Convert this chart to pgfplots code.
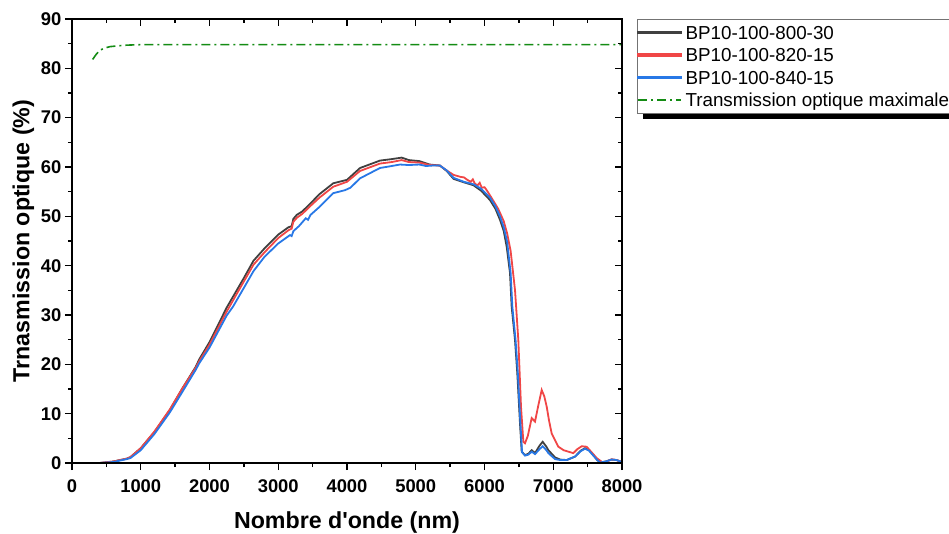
\documentclass[border=0pt]{standalone}
\usepackage{pgfplots}
\pgfplotsset{compat=1.18}
\usepackage{fontspec}
\setmainfont{Liberation Sans}
\definecolor{cBlack}{RGB}{64,64,64}
\definecolor{cRed}{RGB}{240,70,70}
\definecolor{cBlue}{RGB}{40,120,230}
\definecolor{cGreen}{RGB}{20,140,20}
\begin{document}
\begin{tikzpicture}
\pgfplotsset{
  common/.style={
    at={(0pt,0pt)}, anchor=south west,
    scale only axis, width=550pt, height=444pt,
    xmin=0, xmax=8000, ymin=0, ymax=90,
    xtick={0,1000,...,8000}, ytick={0,10,...,90},
    minor x tick num=1, minor y tick num=1,
    axis line style={line width=1.6pt},
    major tick length=7pt, minor tick length=4pt,
    every tick/.style={line width=1.4pt, black},
    scaled x ticks=false,
    /pgf/number format/assume math mode=true,
    /pgf/number format/1000 sep={},
  }
}
% legend shadow
\fill[black] (571pt,344pt) rectangle (895pt,438pt);
\begin{axis}[common,
  tick align=outside, xtick pos=left, ytick pos=left,
  ticklabel style={font=\fontsize{18.4}{20}\selectfont\bfseries},
  xticklabel style={yshift=-6pt},
  xlabel={Nombre d\textquotesingle onde (nm)}, ylabel={Trnasmission optique (\%)},
  label style={font=\fontsize{23.2}{26}\selectfont\bfseries},
  xlabel style={at={(axis description cs:0.5,0)}, anchor=base, yshift=-65pt},
  ylabel style={at={(axis description cs:-0.0773,0.5)}, anchor=base, rotate=0},
  legend style={at={(axis description cs:1.0273,1)}, anchor=north west,
    draw=black!55, fill=white,
    font=\fontsize{18.8}{20}\selectfont,
    inner xsep=0pt, inner ysep=2pt, row sep=0pt, column sep=2pt,
    nodes={inner xsep=1.5pt, inner ysep=3pt, text height=15pt, text depth=1.5pt}},
  legend cell align=left,
]
\addplot[cBlack, line width=1.8pt,
  legend image code/.code={\fill[cBlack] (1pt,-0.9pt) rectangle (44pt,0.9pt);}] coordinates {
(400,0) (600,0.3) (800,0.9) (850,1.2) (1000,3.0) (1200,6.3) (1425,10.8) (1600,15.0) (1800,19.5) (1850,21.0) (2000,24.5) (2250,31.5) (2500,37.5) (2640,41.0) (2800,43.5) (3000,46.3) (3150,47.8) (3195,48.0) (3220,49.5) (3270,50.3) (3350,51.0) (3460,52.5) (3600,54.5) (3800,56.7) (4000,57.4) (4190,59.8) (4480,61.3) (4650,61.6) (4795,61.9) (4900,61.4) (5050,61.2) (5200,60.5) (5350,60.3) (5450,59.2) (5550,57.6) (5700,56.9) (5840,56.3) (5950,55.2) (6080,53.3) (6160,51.5) (6225,49.3) (6280,47.0) (6323,43.8) (6371,38.5) (6395,31.7) (6444,24.9) (6477,18.2) (6516,8.1) (6541,2.3) (6589,1.6) (6640,1.9) (6686,2.6) (6735,2.0) (6800,3.5) (6846,4.3) (6900,3.3) (6929,2.6) (7025,1.15) (7100,0.7) (7195,0.6) (7316,1.3) (7400,2.5) (7462,3.0) (7520,2.6) (7583,1.6) (7640,0.6) (7680,0.1) (7760,0.3) (7850,0.7) (7920,0.6) (8000,0.2)
};
\addlegendentry{BP10-100-800-30}
\addplot[cRed, line width=1.8pt,
  legend image code/.code={\fill[cRed] (1pt,-0.9pt) rectangle (44pt,0.9pt);}] coordinates {
(400,0) (600,0.3) (800,0.9) (850,1.2) (1000,3.0) (1200,6.4) (1425,10.9) (1600,15.0) (1800,19.3) (1850,20.6) (2000,24.0) (2250,30.7) (2500,36.8) (2640,40.2) (2800,42.7) (3000,45.6) (3150,47.2) (3195,47.5) (3220,48.9) (3270,49.7) (3350,50.5) (3460,52.0) (3600,53.8) (3800,56.0) (4000,57.0) (4190,59.2) (4480,60.7) (4650,61.0) (4795,61.4) (4900,61.0) (5050,60.9) (5200,60.4) (5350,60.3) (5450,59.3) (5550,58.4) (5600,58.2) (5650,58.0) (5700,57.9) (5750,57.4) (5800,57.0) (5830,57.5) (5860,56.6) (5900,56.3) (5930,56.8) (5960,55.8) (6000,55.9) (6032,55.3) (6100,53.8) (6200,51.5) (6280,49.0) (6330,46.5) (6380,43.0) (6444,35) (6492,24.9) (6531,11.4) (6565,4.3) (6589,4.0) (6630,5.5) (6686,9.1) (6735,8.4) (6780,11.5) (6832,14.8) (6870,13.5) (6905,11.4) (6940,8.5) (6977,6.0) (7074,3.3) (7150,2.6) (7220,2.3) (7292,2.0) (7350,2.8) (7414,3.4) (7486,3.3) (7550,2.3) (7632,1.0) (7729,0.0) (7790,0.4) (7850,0.75) (7920,0.6) (7995,0.2)
};
\addlegendentry{BP10-100-820-15}
\addplot[cBlue, line width=1.8pt,
  legend image code/.code={\fill[cBlue] (1pt,-0.9pt) rectangle (44pt,0.9pt);}] coordinates {
(400,0) (600,0.2) (800,0.8) (850,1.0) (1000,2.6) (1200,5.9) (1425,10.3) (1600,14.3) (1800,18.9) (1850,20.2) (2000,23.4) (2250,29.9) (2342,31.7) (2500,35.5) (2640,38.9) (2800,41.8) (3000,44.5) (3171,46.2) (3195,46.0) (3220,47.0) (3300,48.0) (3400,49.6) (3433,49.3) (3470,50.3) (3607,52.0) (3800,54.7) (3971,55.3) (4050,55.8) (4189,57.7) (4480,59.8) (4650,60.2) (4771,60.5) (4900,60.4) (5050,60.5) (5150,60.2) (5250,60.3) (5350,60.3) (5450,59.3) (5550,57.8) (5700,57.0) (5840,56.5) (5950,55.6) (6080,53.8) (6160,52.0) (6225,50.0) (6280,47.8) (6330,44.8) (6380,38.5) (6405,31.7) (6452,24.9) (6485,18.2) (6522,8.1) (6546,2.2) (6589,1.5) (6640,1.7) (6686,2.3) (6735,1.8) (6800,2.8) (6846,3.4) (6900,2.6) (6929,2.0) (7025,0.8) (7100,0.6) (7195,0.6) (7316,1.3) (7400,2.4) (7462,2.9) (7520,2.5) (7583,1.5) (7640,0.6) (7680,0.1) (7760,0.3) (7850,0.7) (7920,0.6) (8000,0.2)
};
\addlegendentry{BP10-100-840-15}
\addplot[cGreen, line width=1.6pt, dash pattern=on 9pt off 4pt on 2pt off 4pt,
  legend image code/.code={\draw[cGreen, line width=1.6pt, dash pattern=on 9pt off 4pt on 2pt off 4pt] (1pt,0pt) -- (44pt,0pt);}] coordinates {
(300,81.8) (350,82.8) (407,83.7) (500,84.2) (553,84.4) (700,84.6) (795,84.7) (1000,84.8) (8000,84.8)
};
\addlegendentry{Transmission optique maximale}
\end{axis}
\begin{axis}[common,
  tick align=inside, xtick pos=right, ytick pos=right,
  xticklabels={}, yticklabels={},
]
\end{axis}
\pgfresetboundingbox
\path[use as bounding box] (-72pt,-70pt) rectangle (877pt,463pt);
\end{tikzpicture}
\end{document}
